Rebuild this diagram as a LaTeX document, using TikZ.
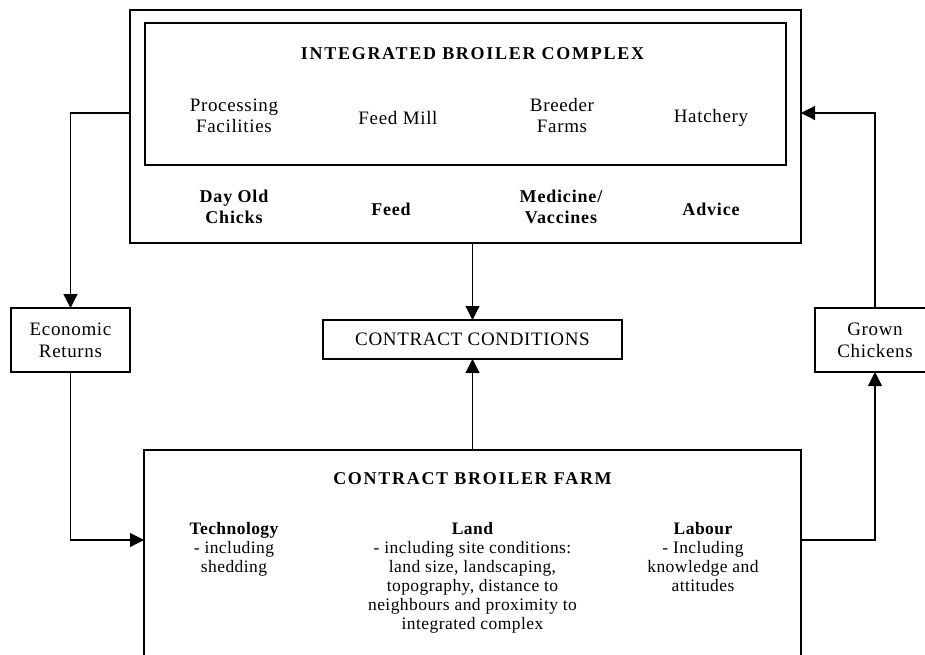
\documentclass[tikz,border=0pt]{standalone}
\usepackage{fontspec}
\setmainfont{Liberation Serif}[LetterSpace=3.5]
\usetikzlibrary{arrows.meta}
\begin{document}
\begin{tikzpicture}[x=1pt,y=-1pt,
  box/.style={draw,line width=1.5pt,rectangle,inner sep=0pt,outer sep=0pt},
  thinbox/.style={draw,line width=1.2pt,rectangle,inner sep=0pt,outer sep=0pt,align=center,
    font=\fontsize{19}{22}\selectfont},
  conn/.style={line width=1.2pt,-{Triangle[length=14pt,width=14pt]}},
  plain/.style={align=center,inner sep=0pt,font=\fontsize{19}{21}\selectfont},
  heavy/.style={align=center,inner sep=0pt,font=\fontsize{18}{21}\selectfont\bfseries\addfontfeatures{LetterSpace=4.6}},
  heading/.style={align=center,inner sep=0pt,font=\fontsize{18}{21}\selectfont\bfseries\addfontfeatures{LetterSpace=9.5}},
  farmtxt/.style={align=center,inner sep=0pt,anchor=north,font=\fontsize{17.5}{19}\selectfont\addfontfeatures{LetterSpace=2.5}},
]
\useasboundingbox (0,0) rectangle (925,654);

% integrated complex: outer and inner frames
\node[box,minimum width=671pt,minimum height=233pt] (top) at (465.5,126.5) {};
\node[box,line width=1.3pt,minimum width=641pt,minimum height=142pt] (inner) at (465.5,94) {};
\node[heading] (ibc) at (472.5,54) {INTEGRATED BROILER COMPLEX};
\node[plain] (proc) at (234,115.5) {Processing\\Facilities};
\node[plain] (mill) at (398,118) {Feed Mill};
\node[plain] (breed) at (562,115.5) {Breeder\\Farms};
\node[plain] (hatch) at (711,118) {Hatchery};
\node[heavy] (chicks) at (234,206.5) {Day Old\\Chicks};
\node[heavy] (feed) at (391,209) {Feed};
\node[heavy] (med) at (561,206.5) {Medicine/\\Vaccines};
\node[heavy] (adv) at (711,209) {Advice};

% side and middle boxes
\node[thinbox,minimum width=299pt,minimum height=39pt] (cc) at (472.5,339.5) {CONTRACT CONDITIONS};
\node[thinbox,minimum width=119pt,minimum height=64pt] (econ) at (70.5,340) {Economic\\Returns};
\node[thinbox,minimum width=120pt,minimum height=64pt] (grown) at (875,340) {Grown\\Chickens};

% contract farm
\node[box,minimum width=657pt,minimum height=260pt] (cbf) at (472.5,580) {};
\node[heading] (cbft) at (472.5,479) {CONTRACT BROILER FARM};
\node[farmtxt] (tech) at (234,522) {{\bfseries Technology}\\- including\\shedding};
\node[farmtxt] (land) at (472.5,522) {{\bfseries Land}\\- including site conditions:\\land size, landscaping,\\topography, distance to\\neighbours and proximity to\\integrated complex};
\node[farmtxt] (lab) at (703,522) {{\bfseries Labour}\\- Including\\knowledge and\\attitudes};

% connector levels
\coordinate (upper) at (0,113);
\coordinate (lower) at (0,540);

% connectors
\draw[conn] (top.west |- upper) -| (econ.north);
\draw[conn] (econ.south) |- (cbf.west |- lower);
\draw[conn] (cbf.east |- lower) -| (grown.south);
\draw[conn] (grown.north) |- (top.east |- upper);
\draw[conn] (cc.north |- top.south) -- (cc.north);
\draw[conn] (cc.south |- cbf.north) -- (cc.south);
\end{tikzpicture}
\end{document}
